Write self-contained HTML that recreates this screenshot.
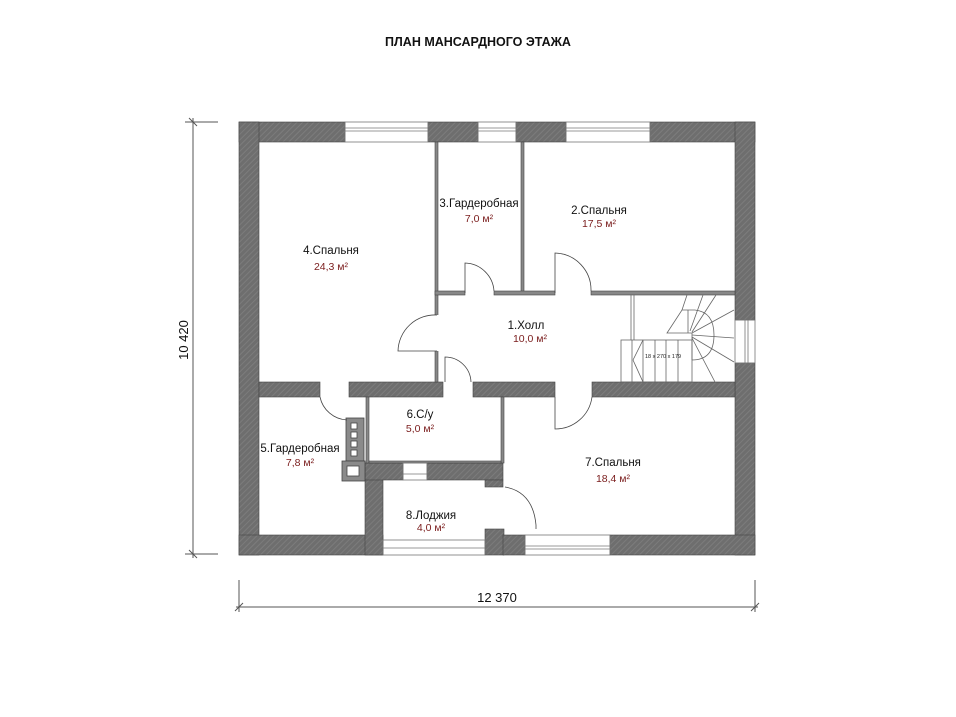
<!DOCTYPE html>
<html><head><meta charset="utf-8"><style>
body{margin:0;background:#fff;}
svg{display:block;font-family:"Liberation Sans",sans-serif;}
.t{font-size:11.5px;fill:#111;text-anchor:middle}
.a{font-size:10.5px;fill:#7a1c1c;text-anchor:middle}
</style></head><body>
<svg width="956" height="717" viewBox="0 0 956 717" xmlns="http://www.w3.org/2000/svg">
<defs>
<pattern id="h" width="4" height="4" patternUnits="userSpaceOnUse" patternTransform="rotate(45)">
<rect width="4" height="4" fill="#6e6e6e"/><rect width="1" height="4" fill="#7c7c7c"/>
</pattern>
</defs>
<rect width="956" height="717" fill="#fff"/>
<text x="478" y="46" font-size="12.5" font-weight="bold" text-anchor="middle" fill="#111">ПЛАН МАНСАРДНОГО ЭТАЖА</text>

<!-- dims -->
<g stroke="#555" stroke-width="1">
<line x1="193" y1="118" x2="193" y2="558"/>
<line x1="185" y1="122" x2="218" y2="122"/>
<line x1="185" y1="554" x2="218" y2="554"/>
<line x1="189" y1="118" x2="197" y2="126"/>
<line x1="189" y1="550" x2="197" y2="558"/>
<line x1="236" y1="607" x2="758" y2="607"/>
<line x1="239" y1="580" x2="239" y2="612"/>
<line x1="755" y1="580" x2="755" y2="612"/>
<line x1="235" y1="611" x2="243" y2="603"/>
<line x1="751" y1="611" x2="759" y2="603"/>
</g>
<text x="192" y="340" font-size="13" text-anchor="middle" fill="#111" transform="rotate(-90 192 340)" dy="-4">10 420</text>
<text x="497" y="602" font-size="13" text-anchor="middle" fill="#111">12 370</text>

<!-- walls -->
<g fill="url(#h)" stroke="#444" stroke-width="0.6">
<!-- top -->
<rect x="239" y="122" width="106" height="20"/>
<rect x="428" y="122" width="50" height="20"/>
<rect x="516" y="122" width="50" height="20"/>
<rect x="650" y="122" width="105" height="20"/>
<!-- left -->
<rect x="239" y="122" width="20" height="433"/>
<!-- right -->
<rect x="735" y="122" width="20" height="198"/>
<rect x="735" y="363" width="20" height="192"/>
<!-- bottom -->
<rect x="239" y="535" width="144" height="20"/>
<rect x="365" y="463" width="18" height="92"/>
<rect x="610" y="535" width="145" height="20"/>
<rect x="485" y="529" width="19" height="26"/>
<rect x="503" y="535" width="22" height="20"/>
<!-- row wall -->
<rect x="259" y="382" width="61" height="15"/>
<rect x="349" y="382" width="94" height="15"/>
<rect x="473" y="382" width="82" height="15"/>
<rect x="592" y="382" width="143" height="15"/>
<!-- loggia upper wall -->
<rect x="365" y="463" width="38" height="17"/>
<rect x="427" y="463" width="76" height="17"/>
<rect x="485" y="480" width="18" height="7"/>
</g>
<!-- thin walls -->
<g fill="#888" stroke="#444" stroke-width="0.6">
<rect x="435" y="142" width="3" height="240"/>
<rect x="521" y="142" width="3" height="150"/>
<rect x="435" y="291" width="30" height="4"/>
<rect x="494" y="291" width="61" height="4"/>
<rect x="591" y="291" width="144" height="4"/>
<rect x="366" y="397" width="3" height="66"/>
<rect x="501" y="397" width="3" height="66"/>
<rect x="369" y="461" width="132" height="2"/>
</g>
<!-- gap in wall 435 for hall door -->
<rect x="434" y="315" width="5" height="36" fill="#fff"/>

<!-- windows -->
<g stroke="#777" stroke-width="0.8" fill="none">
<rect x="345" y="122" width="83" height="20"/><line x1="345" y1="128" x2="428" y2="128"/><line x1="345" y1="131" x2="428" y2="131"/>
<rect x="478" y="122" width="38" height="20"/><line x1="478" y1="128" x2="516" y2="128"/><line x1="478" y1="131" x2="516" y2="131"/>
<rect x="566" y="122" width="84" height="20"/><line x1="566" y1="128" x2="650" y2="128"/><line x1="566" y1="131" x2="650" y2="131"/>
<rect x="735" y="320" width="20" height="43"/><line x1="745" y1="320" x2="745" y2="363"/><line x1="748" y1="320" x2="748" y2="363"/>
<rect x="525" y="535" width="85" height="20"/><line x1="525" y1="546" x2="610" y2="546"/><line x1="525" y1="549" x2="610" y2="549"/>
<rect x="383" y="540" width="102" height="15"/><line x1="383" y1="548" x2="485" y2="548"/>
<rect x="403" y="463" width="24" height="17"/><line x1="403" y1="474" x2="427" y2="474"/>
</g>

<!-- vent block -->
<g stroke="#444" stroke-width="0.8">
<rect x="346" y="418" width="18" height="43" fill="#8a8a8a"/>
<rect x="351" y="423" width="6" height="6" fill="#fff"/>
<rect x="351" y="432" width="6" height="6" fill="#fff"/>
<rect x="351" y="441" width="6" height="6" fill="#fff"/>
<rect x="351" y="450" width="6" height="6" fill="#fff"/>
<rect x="342" y="461" width="23" height="20" fill="#8a8a8a"/>
<rect x="347" y="466" width="12" height="10" fill="#fff"/>
</g>

<!-- doors -->
<g stroke="#444" stroke-width="0.8" fill="none">
<path d="M465 293 L465 263 A30 30 0 0 1 494 291"/>
<path d="M555 293 L555 253 A37 37 0 0 1 591 291"/>
<path d="M437 351 L398 351 A37 37 0 0 1 437 315"/>
<path d="M445 382 L445 357 A26 26 0 0 1 471 382"/>
<path d="M555 397 L555 429 A37 37 0 0 0 592 397"/>
<path d="M320 397 A29 29 0 0 0 347 420"/>
<path d="M505 487 Q533 492 536 525 L536 529"/>
</g>

<!-- stairs -->
<g stroke="#666" stroke-width="0.8" fill="none">
<line x1="631" y1="295" x2="631" y2="340"/>
<line x1="634" y1="295" x2="634" y2="340"/>
<rect x="621" y="340" width="71" height="42"/>
<line x1="632" y1="340" x2="632" y2="382"/><line x1="643" y1="340" x2="643" y2="382"/>
<line x1="655" y1="340" x2="655" y2="382"/><line x1="666" y1="340" x2="666" y2="382"/>
<line x1="678" y1="340" x2="678" y2="382"/>
<line x1="633" y1="360" x2="643" y2="340"/><line x1="633" y1="360" x2="643" y2="382"/>
<path d="M692 333 L667 333 L682 310 L695 310 Q714 312 714 335 Q714 360 692 360"/>
<line x1="692" y1="333" x2="692" y2="360"/>
<line x1="692" y1="333" x2="734" y2="310"/>
<line x1="692" y1="335" x2="734" y2="338"/>
<line x1="692" y1="337" x2="734" y2="362"/>
<line x1="692" y1="338" x2="715" y2="382"/>
<line x1="692" y1="332" x2="716" y2="295"/>
<line x1="690" y1="331" x2="703" y2="295"/>
<line x1="682" y1="310" x2="687" y2="295"/>
<line x1="688" y1="310" x2="688" y2="333"/>
</g>
<text x="645" y="358" font-size="5.5" fill="#222">18 x 270 x 179</text>

<!-- labels -->
<text class="t" x="331" y="254">4.Спальня</text><text class="a" x="331" y="270">24,3 м²</text>
<text class="t" x="479" y="207">3.Гардеробная</text><text class="a" x="479" y="222">7,0 м²</text>
<text class="t" x="599" y="214">2.Спальня</text><text class="a" x="599" y="227">17,5 м²</text>
<text class="t" x="526" y="329">1.Холл</text><text class="a" x="530" y="342">10,0 м²</text>
<text class="t" x="420" y="418">6.С/у</text><text class="a" x="420" y="432">5,0 м²</text>
<text class="t" x="300" y="452">5.Гардеробная</text><text class="a" x="300" y="466">7,8 м²</text>
<text class="t" x="613" y="466">7.Спальня</text><text class="a" x="613" y="482">18,4 м²</text>
<text class="t" x="431" y="519">8.Лоджия</text><text class="a" x="431" y="531">4,0 м²</text>
</svg>
</body></html>
